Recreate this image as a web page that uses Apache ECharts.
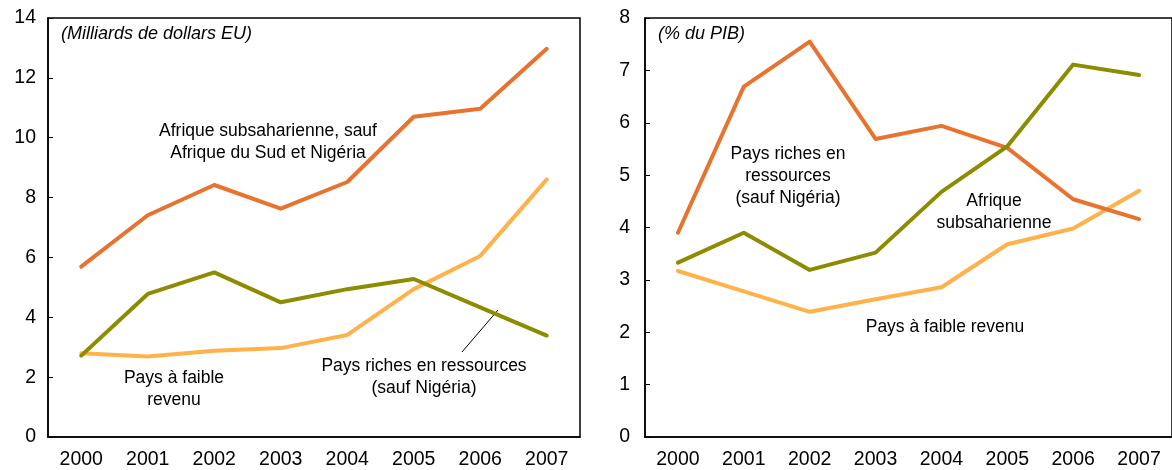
<!DOCTYPE html>
<html>
<head>
<meta charset="utf-8">
<script src="https://cdn.jsdelivr.net/npm/echarts@6/dist/echarts.min.js"></script>
<style>
  html, body { margin: 0; padding: 0; background: #fff; }
  #chart { width: 1172px; height: 470px; }
</style>
</head>
<body>
<div id="chart"></div>
<script>
// Years shared by both panels
const years = ['2000', '2001', '2002', '2003', '2004', '2005', '2006', '2007'];

// Left panel: billions of US dollars
const leftAfriqueSaufAfsNga = [5.69, 7.41, 8.42, 7.63, 8.52, 10.70, 10.97, 12.97];
const leftRichesRessources = [2.72, 4.78, 5.50, 4.50, 4.94, 5.28, 4.33, 3.39];
const leftFaibleRevenu = [2.80, 2.69, 2.88, 2.97, 3.41, 4.94, 6.05, 8.61];

// Right panel: percent of GDP
const rightRichesRessources = [3.90, 6.69, 7.55, 5.69, 5.94, 5.52, 4.54, 4.16];
const rightAfriqueSub = [3.33, 3.90, 3.19, 3.52, 4.68, 5.55, 7.11, 6.91];
const rightFaibleRevenu = [3.17, 2.78, 2.39, 2.63, 2.86, 3.68, 3.98, 4.70];

// Axis ranges
const leftMax = 14, leftStep = 2;
const rightMax = 8, rightStep = 1;

const ORANGE = '#E8732F';
const OLIVE = '#8C8C00';
const LIGHT = '#FFB24A';
const FONT = '"Liberation Sans", Arial, sans-serif';

const chart = echarts.init(document.getElementById('chart'), null, { renderer: 'canvas' });

function xAxisFor(gridIndex) {
  return {
    type: 'category', gridIndex, data: years, boundaryGap: true,
    axisLine: { lineStyle: { color: '#000', width: 1.5 } },
    axisTick: { inside: true, length: 5, interval: 0, lineStyle: { color: '#000', width: 1 } },
    axisLabel: { color: '#000', fontSize: 19.5, fontFamily: FONT, margin: 13, interval: 0 },
    splitLine: { show: false }
  };
}
function yAxisFor(gridIndex, max, step, margin) {
  return {
    type: 'value', gridIndex, min: 0, max, interval: step,
    axisLine: { show: true, lineStyle: { color: '#000', width: 1.5 } },
    axisTick: { show: true, inside: true, length: 5, lineStyle: { color: '#000', width: 1 } },
    axisLabel: { color: '#000', fontSize: 19.5, fontFamily: FONT, margin },
    splitLine: { show: false }
  };
}
function line(name, data, color, idx) {
  return {
    name, type: 'line', data, xAxisIndex: idx, yAxisIndex: idx,
    symbol: 'none', smooth: false, animation: false,
    lineStyle: { color, width: 4, cap: 'round', join: 'round' }
  };
}
function label(x, y, lines, opts) {
  return lines.map((t, i) => ({
    type: 'text', x, y: y + i * 22, silent: true,
    style: Object.assign({
      text: t, fill: '#000', font: '17.5px ' + FONT,
      textAlign: 'center', textVerticalAlign: 'middle'
    }, opts || {})
  }));
}

chart.setOption({
  animation: false,
  backgroundColor: '#fff',
  grid: [
    { left: 48, top: 18, width: 532, height: 420, show: true, borderColor: '#000', borderWidth: 1.5, backgroundColor: 'transparent' },
    { left: 645, top: 18, width: 531, height: 420, show: true, borderColor: '#000', borderWidth: 1.5, backgroundColor: 'transparent' }
  ],
  xAxis: [xAxisFor(0), xAxisFor(1)],
  yAxis: [yAxisFor(0, leftMax, leftStep, 12), yAxisFor(1, rightMax, rightStep, 15)],
  series: [
    line('Pays à faible revenu', leftFaibleRevenu, LIGHT, 0),
    line('Pays riches en ressources (sauf Nigéria)', leftRichesRessources, OLIVE, 0),
    line('Afrique subsaharienne, sauf Afrique du Sud et Nigéria', leftAfriqueSaufAfsNga, ORANGE, 0),
    line('Pays à faible revenu', rightFaibleRevenu, LIGHT, 1),
    line('Pays riches en ressources (sauf Nigéria)', rightRichesRessources, ORANGE, 1),
    line('Afrique subsaharienne', rightAfriqueSub, OLIVE, 1)
  ],
  graphic: [].concat(
    label(61, 34, ['(Milliards de dollars EU)'], { textAlign: 'left', font: 'italic 18px ' + FONT }),
    label(658, 34, ['(% du PIB)'], { textAlign: 'left', font: 'italic 18px ' + FONT }),
    label(268, 131, ['Afrique subsaharienne, sauf', 'Afrique du Sud et Nigéria']),
    label(174, 378, ['Pays à faible', 'revenu']),
    label(424, 366, ['Pays riches en ressources', '(sauf Nigéria)']),
    [{
      type: 'line', silent: true,
      shape: { x1: 498, y1: 310, x2: 462, y2: 352 },
      style: { stroke: '#000', lineWidth: 1 }
    }],
    label(788, 154, ['Pays riches en', 'ressources', '(sauf Nigéria)']),
    label(994, 201, ['Afrique', 'subsaharienne']),
    label(945, 327, ['Pays à faible revenu'])
  )
});
</script>
</body>
</html>
